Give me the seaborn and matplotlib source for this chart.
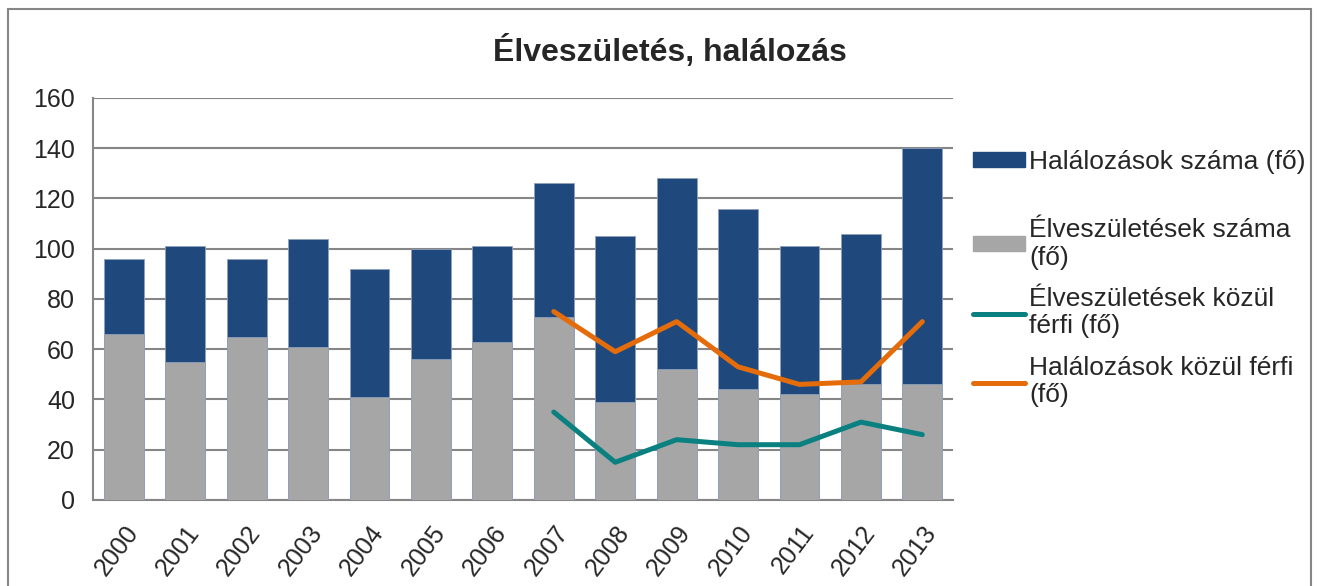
import numpy as np
import matplotlib
matplotlib.use("Agg")
import matplotlib.pyplot as plt
from matplotlib.patches import Patch, Rectangle
from matplotlib.lines import Line2D
import seaborn as sns

# --- data ---
years = ["2000", "2001", "2002", "2003", "2004", "2005", "2006",
         "2007", "2008", "2009", "2010", "2011", "2012", "2013"]
deaths = [96, 101, 96, 104, 92, 100, 101, 126, 105, 128, 116, 101, 106, 140]
births = [66, 55, 65, 61, 41, 56, 63, 73, 39, 52, 44, 42, 46, 46]
male_births = [np.nan] * 7 + [35, 15, 24, 22, 22, 31, 26]
male_deaths = [np.nan] * 7 + [75, 59, 71, 53, 46, 47, 71]

lbl_deaths = "Halálozások száma (fő)"
lbl_births = "Élveszületések száma\n(fő)"
lbl_mbirths = "Élveszületések közül\nférfi (fő)"
lbl_mdeaths = "Halálozások közül férfi\n(fő)"

blue = "#1F497D"
gray = "#A6A6A6"
teal = "#0A8080"
orange = "#E46C0A"
axcol = "#868686"

sns.set_style("white")
plt.rcParams["font.family"] = ["Liberation Sans", "DejaVu Sans"]

fig = plt.figure(figsize=(13.18, 5.86), dpi=100)
ax = fig.add_axes([0.0706, 0.1468, 0.6525, 0.686])

# bars overlap fully: deaths behind, births in front
sns.barplot(x=years, y=deaths, color=blue, width=0.65, saturation=1,
            edgecolor="#8EA0BC", linewidth=0.6, ax=ax, zorder=2)
sns.barplot(x=years, y=births, color=gray, width=0.65, saturation=1,
            edgecolor="#8EA0BC", linewidth=0.6, ax=ax, zorder=3)

pos = np.arange(len(years))
sns.lineplot(x=pos, y=male_births, color=teal, lw=3.6, ax=ax, zorder=4)
sns.lineplot(x=pos, y=male_deaths, color=orange, lw=3.6, ax=ax, zorder=4)

# axes styling
ax.set_ylim(0, 160)
ax.set_yticks(range(0, 161, 20))
ax.set_xlim(-0.5, len(years) - 0.5)
ax.set_xticks(pos)
ax.set_xticklabels(years, rotation=53, ha="right", va="top",
                   rotation_mode="anchor", fontsize=18)
ax.set_xticks(np.arange(-0.5, len(years)), minor=True)
ax.tick_params(axis="x", which="major", length=0, pad=15)
ax.tick_params(axis="x", which="minor", length=8, width=1.5, color=axcol,
               direction="out")
ax.tick_params(axis="y", length=8, width=1.5, color=axcol, labelsize=18,
               direction="out", pad=5)
ax.set_xlabel("")
ax.set_ylabel("")
ax.yaxis.grid(True, color=axcol, lw=1.5)
ax.set_axisbelow(True)
for s in ["top", "right"]:
    ax.spines[s].set_visible(False)
for s in ["left", "bottom"]:
    ax.spines[s].set_color(axcol)
    ax.spines[s].set_linewidth(1.5)

fig.text(0.508, 0.912, "Élveszületés, halálozás", ha="center", va="center",
         fontsize=23, fontweight="bold")

# legend, split in two so the first entry sits higher like the original
leg_kw = dict(loc="upper left", frameon=False, fontsize=19,
              handlelength=2.0, handleheight=0.5, handletextpad=0.15)
fig.legend([Patch(color=blue)], [lbl_deaths],
           bbox_to_anchor=(0.72, 0.784), **leg_kw)
fig.legend([Patch(color=gray),
            Line2D([], [], color=teal, lw=3.6, solid_capstyle="round"),
            Line2D([], [], color=orange, lw=3.6, solid_capstyle="round")],
           [lbl_births, lbl_mbirths, lbl_mdeaths],
           bbox_to_anchor=(0.72, 0.669), labelspacing=0.65, **leg_kw)

# thin outer frame of the chart area
fig.add_artist(Rectangle((0.006, -0.05), 0.989, 1.034,
                         transform=fig.transFigure, fill=False,
                         ec=axcol, lw=1.5))

fig.savefig("out.png", dpi=100)
